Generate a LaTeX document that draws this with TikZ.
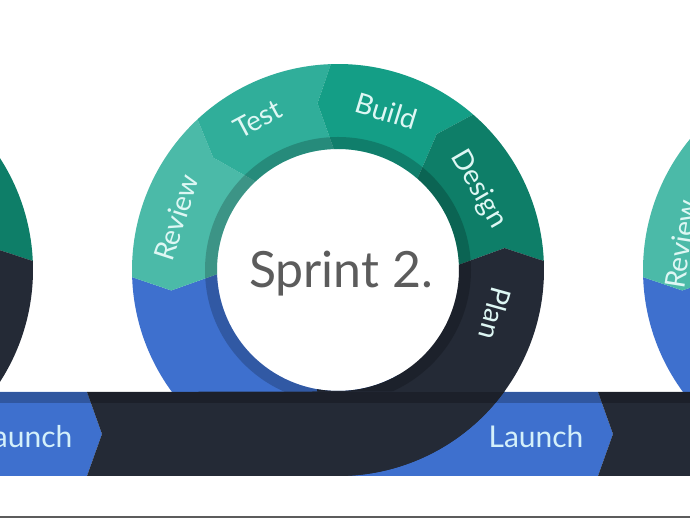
\documentclass[tikz,border=0pt]{standalone}
\usepackage{fontspec}
\setmainfont{Lato}
\usepackage{tikz}
\definecolor{reviewteal}{RGB}{75, 186, 168}
\definecolor{testteal}{RGB}{48, 174, 154}
\definecolor{buildgreen}{RGB}{20, 158, 134}
\definecolor{designgreen}{RGB}{14, 126, 104}
\definecolor{plannavy}{RGB}{36, 42, 54}
\definecolor{launchblue}{RGB}{62, 112, 206}
\definecolor{lcyan}{RGB}{222, 247, 244}
\definecolor{lblue}{RGB}{212, 240, 250}
\definecolor{sgray}{RGB}{92, 92, 92}

\begin{document}
\begin{tikzpicture}[x = 1pt, y = 1pt,
		lbl/.style = {text = lcyan, font = \fontsize{28}{32}\selectfont, inner sep = 0pt},
		inshade/.style = {fill = black, opacity = 0.2, even odd rule}]
			\useasboundingbox (0,0) rectangle (690,518);
			\fill[white] (0,0) rectangle (690,518);
			\clip (0,0) rectangle (690,518);
			% launch arrows
			\foreach \s in {-173,338,849}
				\fill[launchblue] (\s,126) -- (\s+260,126) -- (\s+275,84) -- (\s+260,42) -- (\s,42) -- cycle;
			% rings, one per sprint
			\foreach \s in {-173,338,849} {
				\begin{scope}[shift = {(\s,248)}]
				\foreach \a/\b/\c in {182/300/launchblue, 133/182/reviewteal, 92/133/testteal, 49/92/buildgreen, 2.5/49/designgreen, -100/2.5/plannavy}
					\fill[\c] (\a:206) arc[start angle = \a, end angle = \b, radius = 206] -- ({\b+5}:168) -- (\b:121)
						arc[start angle = \b, end angle = \a, radius = 121] -- ({\a+5}:168) -- cycle;
				\fill[inshade] (0,0) circle (133) circle (121);
				\end{scope}
			}
			% plan runs in along the bottom
			\foreach \s in {-173,338,849}
				\fill[plannavy] (\s-251,126) -- (\s-236,84) -- (\s-251,42) -- (\s,42)
					arc[start angle = -90, end angle = -36, radius = 206] -- cycle;
			\fill[black, opacity = 0.22] (0,115) rectangle (690,126);
			\fill[sgray] (0,0) rectangle (690,1.5);
			% labels
			\begin{scope}[shift = {(338,248)}]
				\node (review) at (162:170) [lbl, rotate = 72] {Review};
				\node (test) at (118:171) [lbl, rotate = 28] {Test};
				\node (build) at (73:166) [lbl, rotate = -17] {Build};
				\node (design) at (30:162) [lbl, rotate = -60] {Design};
				\node (plan) at (-15.5:163) [lbl, rotate = -105.5] {Plan};
				\node (sprint) at (3,-18) [anchor = base, text = sgray, font = \fontsize{50}{60}\selectfont] {Sprint 2.};
			\end{scope}
			\node (reviewC) at (681,274) [lbl, rotate = 81] {Review};
			\node (launch) at (536,81) [lbl, text = lblue, font = \fontsize{30}{34}\selectfont] {Launch};
			\node (launchA) at (25,81) [lbl, text = lblue, font = \fontsize{30}{34}\selectfont] {Launch};
\end{tikzpicture}
\end{document}
